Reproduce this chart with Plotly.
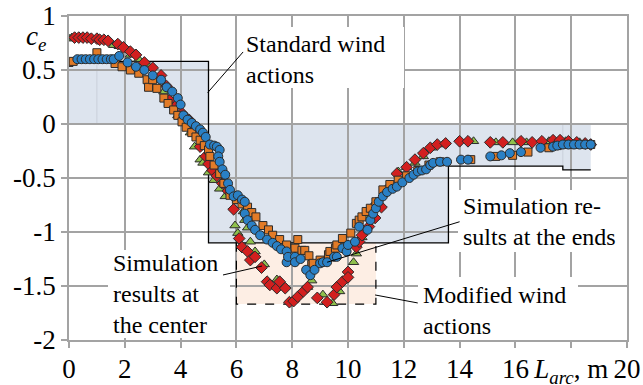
import plotly.graph_objects as go

# ---- data ----
blue_x = [0.3,0.45,0.6,0.75,0.9,1.05,1.2,1.35,1.5,1.6,1.8,2.1,2.4,2.7,3.0,3.3,3.5,3.7,3.9,4.0,4.1,4.25,4.4,4.55,4.7,4.8,4.9,5.05,5.2,5.3,5.4,5.35,5.4,5.5,5.6,5.7,5.77,5.9,6.05,6.2,6.3,6.3,6.4,6.55,6.67,6.85,7.1,7.3,7.45,7.6,7.8,7.8,7.85,8.1,8.1,8.3,8.5,8.65,8.8,9.0,9.1,9.25,9.5,9.6,9.8,9.95,10.0,10.25,10.4,10.7,10.8,10.9,11.0,11.1,11.25,11.4,11.6,11.75,11.95,12.2,12.35,12.5,12.65,12.8,12.95,13.05,13.3,13.55,14.05,14.3,15.1,15.5,15.8,16.2,16.9,17.35,17.5,17.7,17.9,18.1,18.3,18.5,18.7]
blue_y = [0.60,0.60,0.60,0.60,0.60,0.60,0.60,0.60,0.60,0.60,0.63,0.57,0.53,0.50,0.45,0.41,0.34,0.30,0.24,0.18,0.08,0.04,0.01,-0.02,-0.05,-0.08,-0.12,-0.19,-0.20,-0.21,-0.24,-0.30,-0.35,-0.42,-0.47,-0.55,-0.61,-0.67,-0.66,-0.70,-0.72,-0.83,-0.89,-0.94,-0.98,-1.03,-1.07,-1.10,-1.13,-1.16,-1.18,-1.28,-1.23,-1.23,-1.28,-1.25,-1.35,-1.40,-1.35,-1.29,-1.28,-1.28,-1.23,-1.23,-1.15,-1.18,-1.12,-1.09,-0.95,-0.98,-0.89,-0.83,-0.78,-0.72,-0.67,-0.63,-0.60,-0.58,-0.54,-0.50,-0.47,-0.44,-0.43,-0.42,-0.38,-0.36,-0.35,-0.35,-0.33,-0.33,-0.30,-0.29,-0.27,-0.26,-0.22,-0.21,-0.20,-0.19,-0.19,-0.19,-0.19,-0.19,-0.19]

orange_x = [0.0,0.15,1.0,1.65,1.9,2.2,2.5,2.8,2.85,3.0,3.15,3.4,3.55,3.75,3.9,4.05,4.2,4.4,4.55,4.7,4.85,5.0,5.05,5.2,5.4,5.55,5.77,6.0,6.2,6.4,6.55,6.7,6.95,7.15,7.3,7.55,7.8,8.1,8.2,8.35,8.45,8.6,8.7,8.75,9.0,9.3,9.35,9.55,9.6,9.8,10.1,10.3,10.4,10.5,10.65,10.8,11.0,11.25,11.5,11.8,12.1,12.5,12.9,13.3,14.4,15.3,15.9,16.45,17.2,17.5,17.8,18.1,18.4,18.7]
orange_y = [0.57,0.58,0.66,0.56,0.53,0.50,0.47,0.41,0.34,0.41,0.33,0.24,0.19,0.13,0.08,0.02,-0.03,-0.08,-0.12,-0.15,-0.20,-0.24,-0.30,-0.38,-0.46,-0.55,-0.66,-0.70,-0.74,-0.77,-0.82,-0.86,-0.94,-0.98,-1.03,-1.07,-1.12,-1.15,-1.07,-1.17,-1.17,-1.22,-1.30,-1.29,-1.26,-1.21,-1.18,-1.15,-1.12,-1.06,-1.01,-0.92,-0.89,-0.86,-0.81,-0.78,-0.72,-0.61,-0.56,-0.52,-0.48,-0.43,-0.38,-0.35,-0.33,-0.30,-0.29,-0.26,-0.22,-0.20,-0.19,-0.19,-0.19,-0.19]

green_x = [0.0,0.1,1.6,1.8,2.2,2.5,2.8,3.15,3.4,3.6,3.9,4.35,4.5,4.7,4.8,5.0,5.2,5.4,5.6,5.95,6.05,6.25,6.3,6.4,6.5,6.67,7.0,7.45,7.6,8.55,8.7,9.1,9.45,9.7,10.2,10.3,10.5,10.7,11.0,11.3,11.8,12.1,12.4,12.7,13.0,13.4,14.5,15.3,15.9,16.4,17.2,17.8,18.3,18.7]
green_y = [0.79,0.80,0.73,0.72,0.64,0.60,0.55,0.41,0.30,0.19,0.08,-0.08,-0.21,-0.33,-0.36,-0.45,-0.52,-0.60,-0.67,-0.94,-1.01,-0.81,-0.89,-0.96,-1.09,-1.18,-1.30,-1.44,-1.48,-1.51,-1.45,-1.58,-1.66,-1.55,-1.28,-1.20,-1.05,-0.85,-0.72,-0.62,-0.44,-0.40,-0.36,-0.30,-0.22,-0.19,-0.16,-0.17,-0.17,-0.17,-0.16,-0.16,-0.17,-0.18]

red_x = [0.2,0.35,0.5,0.65,0.8,1.0,1.1,1.25,1.4,1.75,1.95,2.2,2.4,2.7,3.0,3.3,3.5,3.6,3.8,4.05,4.3,4.5,4.7,4.9,5.0,5.15,5.3,5.5,5.7,5.9,6.1,6.2,6.4,6.5,6.67,6.9,7.1,7.2,7.45,7.55,7.75,7.9,8.05,8.2,8.4,8.55,8.9,9.25,9.5,9.6,9.8,10.0,10.0,10.3,10.4,10.5,10.75,10.97,11.2,11.5,11.75,12.1,12.4,12.7,12.95,13.2,13.5,14.0,14.3,15.1,15.55,16.2,16.6,16.95,17.35,17.6,17.9,18.2,18.5,18.7]
red_y = [0.80,0.80,0.80,0.80,0.79,0.79,0.78,0.78,0.77,0.74,0.71,0.67,0.64,0.57,0.52,0.45,0.35,0.22,0.16,0.10,0.04,-0.05,-0.21,-0.30,-0.37,-0.43,-0.48,-0.55,-0.62,-0.79,-1.06,-1.14,-1.18,-1.26,-1.23,-1.33,-1.46,-1.49,-1.52,-1.46,-1.52,-1.65,-1.64,-1.60,-1.55,-1.51,-1.61,-1.65,-1.58,-1.51,-1.46,-1.37,-1.42,-1.14,-1.09,-1.03,-0.95,-0.87,-0.77,-0.58,-0.46,-0.40,-0.33,-0.27,-0.22,-0.19,-0.18,-0.16,-0.16,-0.17,-0.17,-0.16,-0.17,-0.16,-0.15,-0.15,-0.16,-0.17,-0.18,-0.19]

# standard wind action step function and modified rectangle
std_x = [0, 5, 5, 13.6, 13.6, 17.7, 17.7, 18.7]
std_y = [0.58, 0.58, -1.1, -1.1, -0.39, -0.39, -0.425, -0.425]
mod_x0, mod_x1, mod_y0, mod_y1 = 6.0, 11.0, -1.667, -1.1

x_tickvals = [0, 2, 4, 6, 8, 10, 12, 14, 16, 18, 20]
x_ticktext = ["0", "2", "4", "6", "8", "10", "12", "14", "16", "<i>L<sub>arc</sub></i>, m", "20"]
y_tickvals = [1, 0.5, 0, -0.5, -1, -1.5, -2]
y_ticktext = ["1", "0.5", "0", "-0.5", "-1", "-1.5", "-2"]

FONT = "Liberation Serif"
GRID = "#a3a3a3"
TICK_SIZE = 27
LABEL_SIZE = 24

fig = go.Figure()

mk_line = dict(color="#2b2b2b", width=1)
fig.add_trace(go.Scatter(x=green_x, y=green_y, mode="markers",
    marker=dict(symbol="triangle-up", size=9, color="#8fc04c", line=mk_line)))
fig.add_trace(go.Scatter(x=red_x, y=red_y, mode="markers",
    marker=dict(symbol="diamond", size=9, color="#d21f1f", line=mk_line)))
fig.add_trace(go.Scatter(x=orange_x, y=orange_y, mode="markers",
    marker=dict(symbol="square", size=8, color="#e27b27", line=mk_line)))
fig.add_trace(go.Scatter(x=blue_x, y=blue_y, mode="markers",
    marker=dict(symbol="circle", size=9, color="#2a80c5", line=mk_line)))

shapes = []
path = "M 0,0 " + " ".join(f"L {x},{y}" for x, y in zip(std_x, std_y)) + f" L {std_x[-1]},0 Z"
shapes.append(dict(type="path", path=path, xref="x", yref="y", fillcolor="#dde4ee",
                   line=dict(width=0), layer="below"))
shapes.append(dict(type="line", x0=1, x1=1, y0=0, y1=0.58, xref="x", yref="y",
                   line=dict(color="#c9d0da", width=1), layer="below"))
shapes.append(dict(type="line", x0=17.7, x1=17.7, y0=0, y1=-0.39, xref="x", yref="y",
                   line=dict(color="#c9d0da", width=1), layer="below"))
shapes.append(dict(type="rect", x0=mod_x0, x1=mod_x1, y0=mod_y0, y1=mod_y1, xref="x", yref="y",
                   fillcolor="#fdeee4", line=dict(width=0), layer="below"))
shapes.append(dict(type="path", path=f"M {mod_x0},{mod_y1} L {mod_x0},{mod_y0} L {mod_x1},{mod_y0} L {mod_x1},-1.13",
                   xref="x", yref="y", line=dict(color="black", width=1.2, dash="dash"), layer="between"))
spath = "M " + " L ".join(f"{x},{y}" for x, y in zip(std_x, std_y))
shapes.append(dict(type="path", path=spath, xref="x", yref="y",
                   line=dict(color="black", width=1.3), layer="between"))

def px2x(p): return (p - 69) / 27.9
def py2y(p): return (124 - p) / 108.0
for (a, b, c, d) in [(237, 404, 27, 88), (458, 640, 190, 252), (108, 230, 250, 338), (418, 578, 277, 342)]:
    shapes.append(dict(type="rect", x0=px2x(a), x1=px2x(b), y0=py2y(d), y1=py2y(c),
                       xref="x", yref="y", fillcolor="white", line=dict(width=0), layer="between"))

for (x0, y0, x1, y1) in [(6.24, 0.667, 4.97, 0.29), (14.0, -0.905, 9.25, -1.28),
                         (5.52, -1.398, 6.92, -1.315), (12.5, -1.657, 10.97, -1.583)]:
    shapes.append(dict(type="line", x0=x0, y0=y0, x1=x1, y1=y1, xref="x", yref="y",
                       line=dict(color="black", width=1), layer="above"))

annots = []
def label(text, x, y):
    annots.append(dict(text=text, x=x, y=y, xref="x", yref="y", showarrow=False,
                       xanchor="left", yanchor="middle", align="left", borderpad=0,
                       font=dict(family=FONT, size=LABEL_SIZE, color="black")))
label("Standard wind<br>actions", px2x(245), py2y(59))
label("Simulation re-<br>sults at the ends", px2x(462), py2y(221.5))
label("Simulation<br>results at<br>the center", px2x(112), py2y(294))
label("Modified wind<br>actions", px2x(422), py2y(310))
annots.append(dict(text="<i>c<sub>e</sub></i>", x=(36 - 69) / 558, y=(340 - 38) / 324,
                   xref="paper", yref="paper",
                   showarrow=False, xanchor="center", yanchor="middle",
                   font=dict(family=FONT, size=TICK_SIZE, color="black")))

fig.update_layout(
    width=643, height=385,
    margin=dict(l=69, r=16, t=16, b=45, autoexpand=False),
    paper_bgcolor="white", plot_bgcolor="white",
    showlegend=False,
    shapes=shapes, annotations=annots,
    font=dict(family=FONT, size=TICK_SIZE, color="black"),
    xaxis=dict(range=[0, 20], tickvals=x_tickvals, ticktext=x_ticktext, automargin=False,
               showgrid=True, gridcolor=GRID, gridwidth=1.5, zeroline=False,
               showline=True, mirror=True, linecolor=GRID, linewidth=1.5,
               ticks="outside", ticklen=6, tickcolor=GRID, tickwidth=1.5,
               ticklabelstandoff=-2,
               tickfont=dict(family=FONT, size=TICK_SIZE, color="black")),
    yaxis=dict(range=[-2, 1], tickvals=y_tickvals, ticktext=y_ticktext, automargin=False,
               showgrid=True, gridcolor=GRID, gridwidth=1.5, zeroline=False,
               showline=True, mirror=True, linecolor=GRID, linewidth=1.5,
               ticks="outside", ticklen=6, tickcolor=GRID, tickwidth=1.5,
               tickfont=dict(family=FONT, size=TICK_SIZE, color="black")),
)

# remove the browser's default 8px body margin so the figure fills the window exactly
fig.write_html("out.html", config={"displayModeBar": False},
               post_script="document.body.style.margin='0';document.body.style.overflow='hidden';")
